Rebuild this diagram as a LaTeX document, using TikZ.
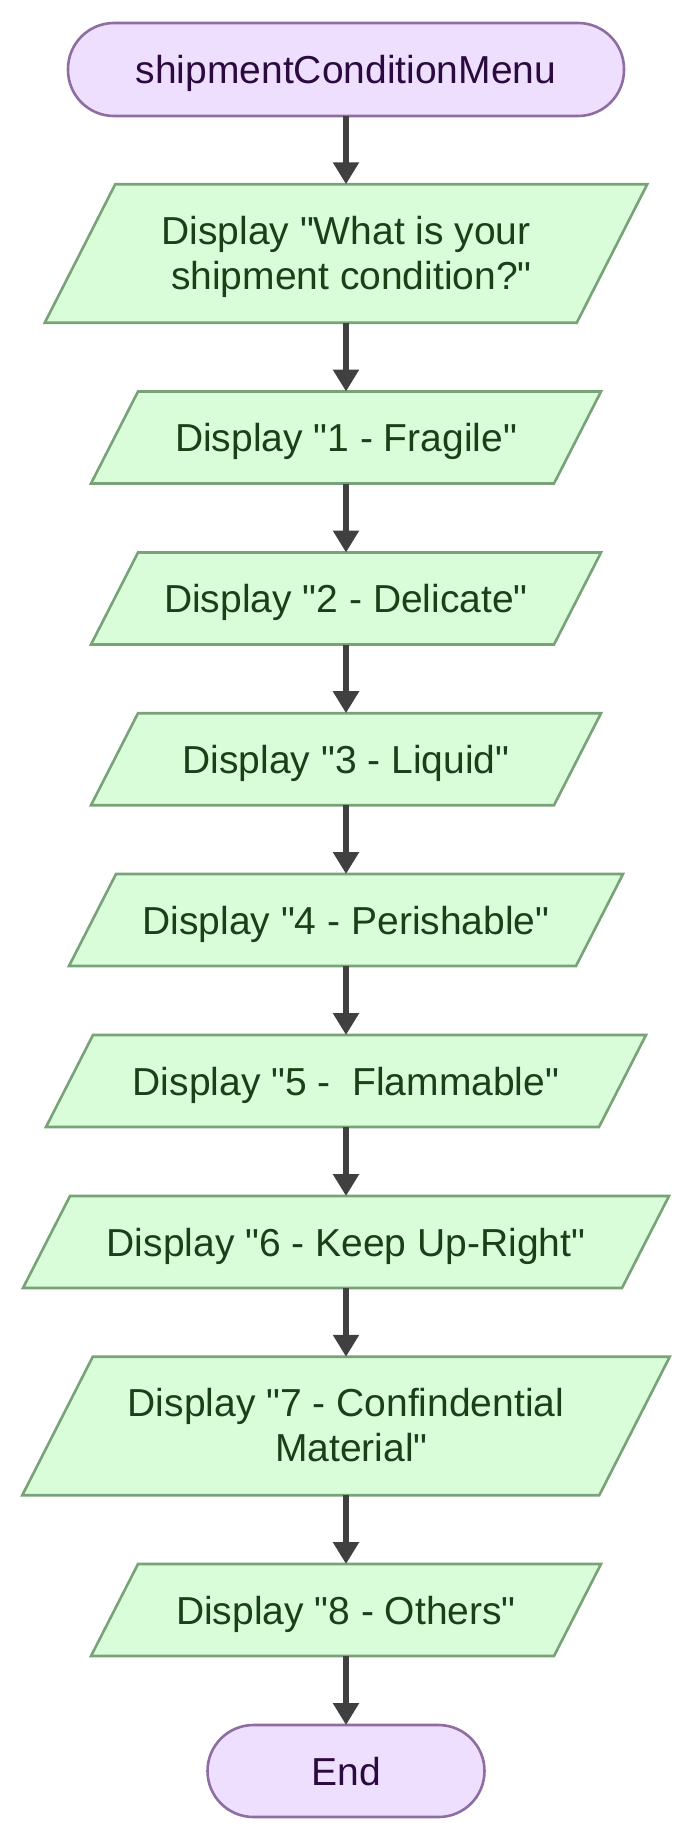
\documentclass[tikz,border=0pt]{standalone}
\usepackage{fontspec}
\setmainfont{Liberation Sans}[Ligatures=TeXOff]
\usetikzlibrary{arrows.meta,backgrounds}
\definecolor{gfill}{HTML}{D9FDD8}
\definecolor{gline}{HTML}{78A278}
\definecolor{gtext}{HTML}{1A4017}
\definecolor{pfill}{HTML}{EFDFFE}
\definecolor{pline}{HTML}{8E6DA2}
\definecolor{ptext}{HTML}{2B0A3F}
\definecolor{arr}{HTML}{404040}
\newcommand{\twolines}[2]{\begin{tabular}[t]{@{}c@{}}#1\\#2\end{tabular}}
\begin{document}
\begin{tikzpicture}[x=1pt,y=-1pt,
  base/.style={inner sep=0pt, outer sep=0pt, font=\fontsize{39}{45}\selectfont},
  one/.style={text height=34pt, text depth=6pt},
  two/.style={text height=34pt, text depth=53pt},
  term/.style={base, one, rectangle, rounded corners=46pt, draw=pline, fill=pfill,
    text=ptext, line width=2.6pt},
  parabody/.style={base, rectangle, text=gtext},
  flow/.style={draw=arr, line width=5.5pt, -{Triangle[length=22pt,width=25pt]}},
  parashape/.style={draw=gline, fill=gfill, line width=2.6pt, line join=miter}
]
\useasboundingbox (0,0) rectangle (691,1841);

\node[term, minimum width=556pt, minimum height=93pt] (start) at (346,69.5) {shipmentConditionMenu};
\node[parabody, two, minimum width=532pt, minimum height=138.5pt] (p1) at (346,253.5)
  {\twolines{Display "What is your}{\hspace*{0.278em}shipment condition?"}};
\node[parabody, one, minimum width=463pt, minimum height=92pt] (p2) at (346,437.5) {Display "1 - Fragile"};
\node[parabody, one, minimum width=463pt, minimum height=92pt] (p3) at (346,598.5) {Display "2 - Delicate"};
\node[parabody, one, minimum width=463pt, minimum height=92pt] (p4) at (346,759.2) {Display "3 - Liquid"};
\node[parabody, one, minimum width=507pt, minimum height=92pt] (p5) at (346,920) {Display "4 - Perishable"};
\node[parabody, one, minimum width=553pt, minimum height=92pt] (p6) at (346,1081) {Display "5 - \ Flammable"};
\node[parabody, one, minimum width=599pt, minimum height=92pt] (p7) at (346,1242) {Display "6 - Keep Up-Right"};
\node[parabody, two, minimum width=577pt, minimum height=138.5pt] (p8) at (346,1426)
  {\twolines{Display "7 - Confindential}{\hspace*{0.278em}Material"}};
\node[parabody, one, minimum width=463pt, minimum height=92pt] (p9) at (346,1610) {Display "8 - Others"};
\node[term, minimum width=277pt, minimum height=92pt] (finish) at (346,1771) {End};

\begin{scope}[on background layer]
  \fill[white] (0,0) rectangle (691,1841);
  \foreach \n/\h in {p1/35.25, p2/23.5, p3/23.5, p4/23.5, p5/23.5, p6/23.5, p7/23.5, p8/35.25, p9/23.5}{
    \draw[parashape] ([xshift=\h pt]\n.north west) -- ([xshift=\h pt]\n.north east)
      -- ([xshift=-\h pt]\n.south east) -- ([xshift=-\h pt]\n.south west) -- cycle;
  }
\end{scope}

\draw[flow] (start) -- (p1);
\draw[flow] (p1) -- (p2);
\draw[flow] (p2) -- (p3);
\draw[flow] (p3) -- (p4);
\draw[flow] (p4) -- (p5);
\draw[flow] (p5) -- (p6);
\draw[flow] (p6) -- (p7);
\draw[flow] (p7) -- (p8);
\draw[flow] (p8) -- (p9);
\draw[flow] (p9) -- (finish);
\end{tikzpicture}
\end{document}
